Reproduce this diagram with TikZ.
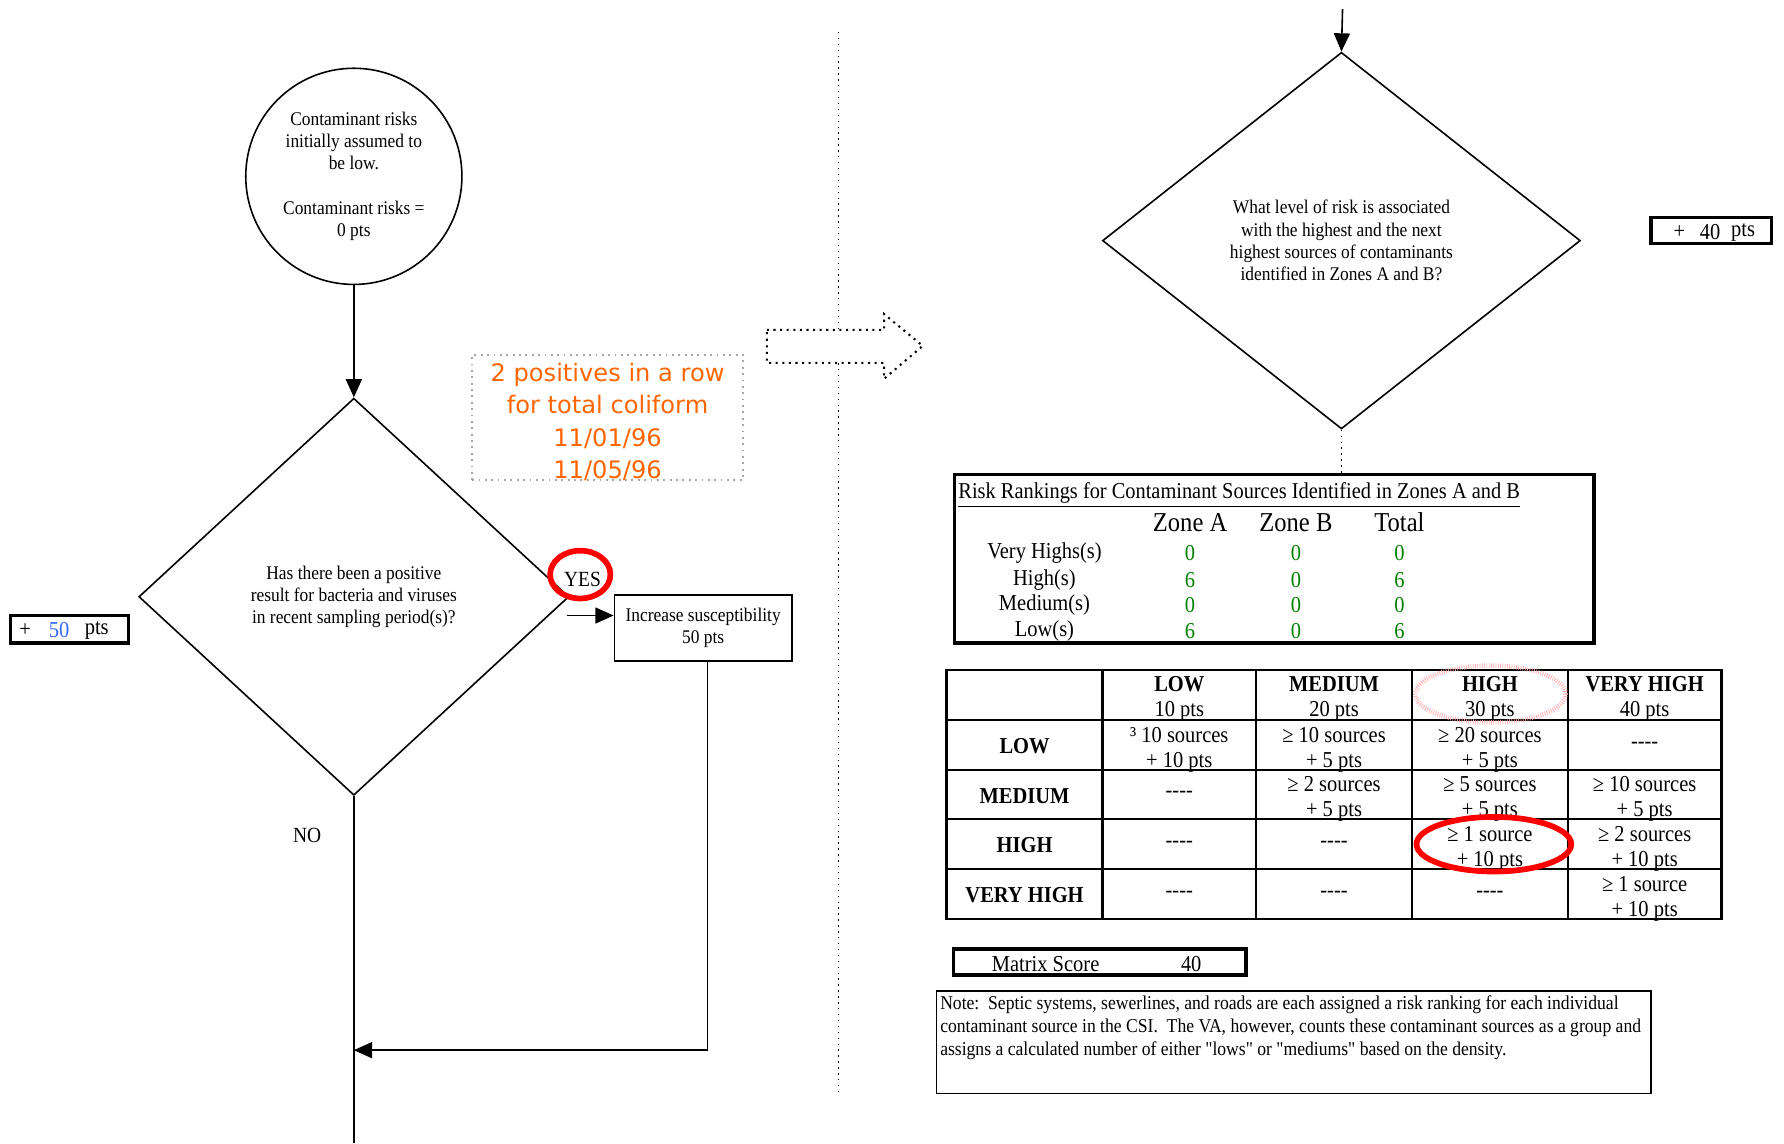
\documentclass[tikz,border=0pt]{standalone}
\usepackage{fontspec}
\setmainfont{Liberation Serif}[FakeStretch=0.9]
\newfontfamily\notefont{Liberation Serif}[FakeStretch=0.9]
\newfontfamily\orangefont{DejaVu Sans}
\usetikzlibrary{shapes.geometric,arrows.meta}
\definecolor{orangetxt}{RGB}{255,102,0}
\definecolor{bluetxt}{RGB}{51,102,255}
\definecolor{greentxt}{RGB}{0,128,0}
\newcommand{\fourdash}{-{}-{}-{}-}
\begin{document}
\begin{tikzpicture}[x=0.5pt,y=-0.5pt,
  line/.style={line width=0.7pt},
  arr/.style={line width=0.7pt,-{Triangle[length=8pt,width=7pt]}},
  txt/.style={font=\fontsize{8.5}{9.8}\selectfont, align=center, inner sep=0pt},
  thickbox/.style={draw, line width=1.5pt, inner sep=0pt},
  lbl/.style={font=\fontsize{10}{11}\selectfont, inner sep=0pt, align=center},
  rlbl/.style={font=\fontsize{10}{11}\selectfont\bfseries, inner sep=0pt, align=center},
  cell/.style={font=\fontsize{10}{11}\selectfont, inner sep=0pt, align=center},
  gval/.style={font=\fontsize{10}{11}\selectfont, inner sep=0pt, text=greentxt},
  zhead/.style={font=\fontsize{12}{14}\selectfont, inner sep=0pt},
  dotline/.style={dotted, line width=0.6pt}
]
\useasboundingbox (0,0) rectangle (1568,1005);

% ---------- left part ----------
\node (c1) [draw, circle, line width=0.7pt, minimum size=95pt, txt] at (311,155)
  {Contaminant risks\\initially assumed to\\be low.\\[9.8pt]Contaminant risks =\\0 pts};

\node (d1) [draw, diamond, line width=0.7pt, minimum width=189pt, minimum height=174.5pt, txt] at (311,524.5)
  {Has there been a positive\\result for bacteria and viruses\\in recent sampling period(s)?};

\draw[arr] (c1.south) -- (d1.north);

\node (yes) [font=\fontsize{9.5}{11}\selectfont, inner sep=0pt] at (512,509) {YES};
\draw[red, line width=2.5pt] (510,505) ellipse [x radius=13.25pt, y radius=10.5pt];

\node (inc) [draw, line width=0.7pt, minimum width=78pt, minimum height=29pt, txt] at (618,552)
  {Increase susceptibility\\50 pts};
\coordinate (yesarr) at (498,541);
\draw[arr] (yesarr) -- (yesarr -| inc.west);

\coordinate (ret) at (311,923);
\draw[arr] ([xshift=2pt]inc.south) |- (ret);

\coordinate (bot) at (311,1005);
\draw[line] (d1.south) -- (bot);

\node (no) [font=\fontsize{9.5}{11}\selectfont, inner sep=0pt] at (270,734) {NO};

\node (p50) [thickbox, minimum width=52pt, minimum height=12pt] at (61,553) {};
\node (p50a) [lbl] at (22,554) {+};
\node (p50b) [lbl, text=bluetxt] at (52,554) {50};
\node (p50c) [lbl] at (85,554) {pts};

\node (cmtbox) [draw=gray!70, dotted, line width=0.8pt, minimum width=119pt, minimum height=55pt, inner sep=0pt]
  at (534,367) {};
\node (cmt) [font=\orangefont\fontsize{10.6}{14.25}\selectfont, text=orangetxt, align=center, inner sep=0pt]
  at (534,371) {2 positives in a row\\for total coliform\\11/01/96\\11/05/96};

% ---------- divider and big arrow ----------
\coordinate (vtop) at (737,28);
\coordinate (vbot) at (737,962);
\draw[dotline] (vtop) -- (vbot);
\draw[dotted, line width=0.9pt, fill=white] (674,290) -- (777,290) -- (777,276) -- (811,304)
  -- (777,333) -- (777,319) -- (674,319) -- cycle;

% ---------- right part ----------
\node (d2) [draw, diamond, line width=0.7pt, minimum width=210pt, minimum height=165.5pt, txt] at (1179,211.5)
  {What level of risk is associated\\with the highest and the next\\highest sources of contaminants\\identified in Zones A and B?};
\coordinate (tin) at (1180,8);
\draw[arr] (tin) -- (d2.north);

\node (p40) [thickbox, minimum width=53pt, minimum height=11.5pt] at (1504,202.5) {};
\node (p40a) [lbl] at (1476,204) {+};
\node (p40b) [lbl] at (1503,204) {40};
\node (p40c) [lbl] at (1532,204) {pts};

\node (rr) [thickbox, minimum width=281pt, minimum height=74pt] at (1120,491) {};
\draw[dotline] (d2.south) -- (d2.south |- rr.north);
\node (rrt) [anchor=west, font=\fontsize{9.95}{11}\selectfont, inner sep=0pt] at (842,435)
  {\underline{Risk Rankings for Contaminant Sources Identified in Zones A and B}};
\node (za) [zhead] at (1046,459) {Zone A};
\node (zb) [zhead] at (1139,459) {Zone B};
\node (zt) [zhead] at (1230,459) {Total};
\node (r1) [lbl] at (918,486) {Very Highs(s)};
\node (r2) [lbl] at (918,510) {High(s)};
\node (r3) [lbl] at (918,532) {Medium(s)};
\node (r4) [lbl] at (918,555) {Low(s)};
\foreach \y/\a/\b/\c [count=\i] in {486/0/0/0, 510/6/0/6, 532/0/0/0, 555/6/0/6} {
  \node (va\i) [gval] at (1046,\y) {\a};
  \node (vb\i) [gval] at (1139,\y) {\b};
  \node (vt\i) [gval] at (1230,\y) {\c};
}

% ---------- matrix ----------
\draw[line width=1pt] (832,589) rectangle (1513,808);
\foreach \x in {969,1104,1241,1378} \draw[line width=1pt] (\x,589) -- (\x,808);
\foreach \y in {633,677,720,764} \draw[line width=1pt] (832,\y) -- (1513,\y);

\node (h1) [cell] at (1036.5,614) {\textbf{LOW}\\10 pts};
\node (h2) [cell] at (1172.5,614) {\textbf{MEDIUM}\\20 pts};
\node (h3) [cell] at (1309.5,614) {\textbf{HIGH}\\30 pts};
\node (h4) [cell] at (1445.5,614) {\textbf{VERY HIGH}\\40 pts};

\node (rl1) [rlbl] at (900.5,656) {LOW};
\node (rl2) [rlbl] at (900.5,699.5) {MEDIUM};
\node (rl3) [rlbl] at (900.5,743) {HIGH};
\node (rl4) [rlbl] at (900.5,787) {VERY HIGH};

\node (m11) [cell] at (1036.5,659) {³ 10 sources\\+ 10 pts};
\node (m12) [cell] at (1172.5,659) {≥ 10 sources\\+ 5 pts};
\node (m13) [cell] at (1309.5,659) {≥ 20 sources\\+ 5 pts};
\node (m14) [cell] at (1445.5,655) {\fourdash};

\node (m21) [cell] at (1036.5,698.5) {\fourdash};
\node (m22) [cell] at (1172.5,702.5) {≥ 2 sources\\+ 5 pts};
\node (m23) [cell] at (1309.5,702.5) {≥ 5 sources\\+ 5 pts};
\node (m24) [cell] at (1445.5,702.5) {≥ 10 sources\\+ 5 pts};

\node (m31) [cell] at (1036.5,742) {\fourdash};
\node (m32) [cell] at (1172.5,742) {\fourdash};
\node (m33) [cell] at (1309.5,746) {≥ 1 source\\+ 10 pts};
\node (m34) [cell] at (1445.5,746) {≥ 2 sources\\+ 10 pts};

\node (m41) [cell] at (1036.5,786) {\fourdash};
\node (m42) [cell] at (1172.5,786) {\fourdash};
\node (m43) [cell] at (1309.5,786) {\fourdash};
\node (m44) [cell] at (1445.5,790) {≥ 1 source\\+ 10 pts};

\draw[red, line width=2.5pt] (1313,742) ellipse [x radius=34pt, y radius=12pt];
\draw[red!35, line width=2pt, dash pattern=on 0.3pt off 0.7pt] (1310,610) ellipse [x radius=33pt, y radius=12.5pt];

% ---------- score and note ----------
\node (ms) [thickbox, minimum width=128.5pt, minimum height=11.5pt] at (966.5,845.5) {};
\node (msl) [lbl] at (919,847) {Matrix Score};
\node (msv) [lbl] at (1047,847) {40};

\node (nb) [draw, line width=0.75pt, minimum width=314pt, minimum height=45pt, inner sep=0pt] at (1137,916) {};
\node (nt) [anchor=north west, font=\notefont\fontsize{8.6}{10}\selectfont, align=left, inner sep=0pt] at (826,875)
  {Note:\ \ Septic systems, sewerlines, and roads are each assigned a risk ranking for each individual\\
   contaminant source in the CSI.\ \ The VA, however, counts these contaminant sources as a group and\\
   assigns a calculated number of either "lows" or "mediums" based on the density.};
\end{tikzpicture}
\end{document}
